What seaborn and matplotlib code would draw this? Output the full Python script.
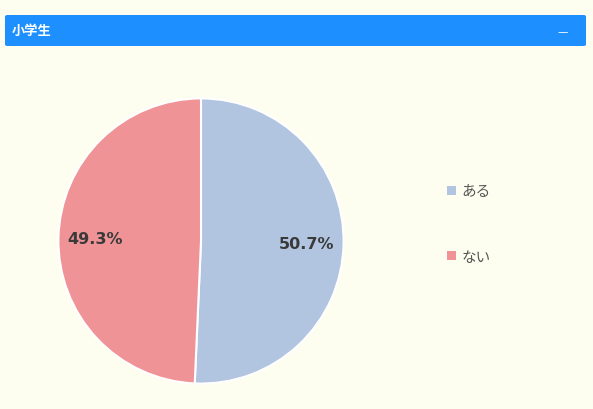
import matplotlib
matplotlib.use("Agg")
import matplotlib.pyplot as plt
from matplotlib.patches import FancyBboxPatch, Patch
import seaborn as sns

# data
labels = ["ある", "ない"]
values = [50.7, 49.3]
colors = ["#B1C4E0", "#F09397"]
title = "小学生"

sns.set_theme(style="white")
plt.rcParams["font.family"] = ["Noto Sans CJK JP", "DejaVu Sans"]

W, H = 593, 410
fig = plt.figure(figsize=(W / 100, H / 100), dpi=100)
fig.patch.set_facecolor("#FEFEF0")

# header bar
bar = FancyBboxPatch((5 / W, (H - 47) / H), 581 / W, 31 / H,
                     boxstyle="round,pad=0,rounding_size=0.004",
                     transform=fig.transFigure, facecolor="#1E8FFF",
                     edgecolor="none")
fig.patches.append(bar)
fig.text(12 / W, (H - 31) / H, title, color="white", fontsize=9.5,
         fontweight="bold", va="center", ha="left")
fig.text(563 / W, (H - 32) / H, "—", color="white", fontsize=7.5,
         va="center", ha="center", family=["DejaVu Sans"])

# pie
cx, cy, r = 201, H - 242, 144
ax = fig.add_axes([(cx - r) / W, (cy - r) / H, 2 * r / W, 2 * r / H])
ax.set_facecolor("none")
wedges, texts, autotexts = ax.pie(
    values, colors=colors, startangle=90, counterclock=False,
    autopct="%.1f%%", pctdistance=0.74,
    wedgeprops=dict(edgecolor="white", linewidth=1.5),
    textprops=dict(fontsize=11.5, fontweight="bold", color="#3A3A3A",
                   family=["DejaVu Sans"]))
ax.set_xlim(-1.01, 1.01)
ax.set_ylim(-1.01, 1.01)
ax.set_aspect("equal")
ax.axis("off")

handles = [Patch(facecolor=c, edgecolor="none") for c in colors]
leg = fig.legend(handles, labels, loc="center left",
                 bbox_to_anchor=(434 / W, (H - 225) / H), frameon=False,
                 fontsize=10.5, handlelength=0.6, handleheight=0.6,
                 handletextpad=0.4, labelspacing=3.5)
for t in leg.get_texts():
    t.set_color("#555555")

fig.savefig("out.png", dpi=100, facecolor=fig.get_facecolor())
